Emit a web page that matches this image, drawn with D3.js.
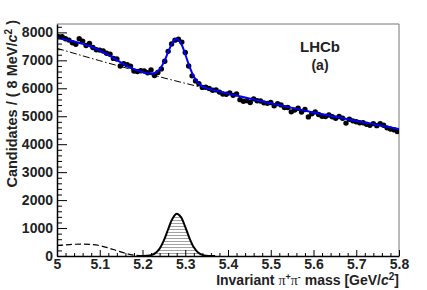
<!DOCTYPE html>
<html><head><meta charset="utf-8">
<script src="https://cdn.jsdelivr.net/npm/d3@7"></script>
<style>
body{margin:0;background:#fff}
svg{display:block}
text{font-family:"Liberation Sans",Arial,Helvetica,sans-serif;font-weight:bold;fill:#222}
</style>
</head><body>
<svg id="c" width="427" height="290"></svg>
<script>
// ---- histogram (8 MeV bins from 5.0 GeV) ----
const binLow = 5.0, binWidth = 0.008;
const counts = [
7848,7845,7771,7724,7627,7572,7773,7689,7530,7608,
7461,7380,7367,7335,7253,7217,7069,7050,6797,6882,
6840,6794,6619,6598,6627,6617,6557,6654,6458,6565,
6694,6969,7322,7582,7723,7756,7653,7278,6799,6445,
6264,6163,6032,6036,5995,5932,5943,5864,5794,5785,
5836,5748,5801,5593,5535,5557,5490,5622,5554,5546,
5479,5461,5493,5377,5451,5405,5309,5313,5157,5220,
5284,5148,5242,4976,5090,5155,5060,4996,4991,5047,
4982,4928,4993,4929,4754,4890,4836,4801,4768,4765,
4712,4679,4736,4663,4730,4677,4584,4541,4518,4455];

// ---- fit curves ----
const totalMass = [5.00,5.02,5.04,5.06,5.08,5.10,5.12,5.14,5.16,5.18,5.20,5.21,5.22,5.23,5.24,5.25,5.26,5.27,5.28,5.29,5.30,5.31,5.32,5.33,5.34,5.35,5.36,5.38,5.40,5.45,5.50,5.55,5.60,5.65,5.70,5.75,5.80];
const totalFit  = [7800,7741,7673,7589,7486,7357,7194,7010,6832,6684,6577,6540,6524,6555,6679,6933,7292,7629,7764,7606,7218,6774,6418,6194,6072,6005,5959,5884,5810,5637,5463,5300,5137,4984,4831,4687,4543];
const bkgMass = [5.0,5.1,5.2,5.3,5.4,5.5,5.6,5.7,5.8];
const bkgFit  = [7430,6987,6570,6178,5810,5463,5137,4831,4543];
const partMass = [5.00,5.02,5.04,5.06,5.08,5.10,5.12,5.14,5.16,5.18,5.20,5.22];
const partFit  = [370,400,420,425,410,370,290,190,95,30,5,0];
const sigMass = [5.19,5.20,5.21,5.22,5.23,5.24,5.25,5.26,5.27,5.28,5.29,5.30,5.31,5.32,5.33,5.34,5.35,5.36,5.37];
const sigFit  = [0,2,8,32,103,266,559,957,1333,1508,1389,1040,633,314,126,41,11,2,0];

// ---- ticks ----
const xTicks = [5.0,5.1,5.2,5.3,5.4,5.5,5.6,5.7,5.8];
const xTickLabels = ["5","5.1","5.2","5.3","5.4","5.5","5.6","5.7","5.8"];
const yTicks = [0,1000,2000,3000,4000,5000,6000,7000,8000];
const yTickLabels = ["0","1000","2000","3000","4000","5000","6000","7000","8000"];

const svg = d3.select("#c");
const x = d3.scaleLinear().domain([5, 5.8]).range([57, 399]);
const y = d3.scaleLinear().domain([0, 8300]).range([256, 24]);

const defs = svg.append("defs");
defs.append("clipPath").attr("id","plot").append("rect")
  .attr("x",57).attr("y",24).attr("width",342).attr("height",232);
const pat = defs.append("pattern").attr("id","hatch").attr("patternUnits","userSpaceOnUse")
  .attr("width",6).attr("height",3);
pat.append("line").attr("x1",0).attr("x2",6).attr("y1",1.5).attr("y2",1.5)
  .attr("stroke","#8a8a8a").attr("stroke-width",0.8);

// frame (top/right)
svg.append("path").attr("d",`M${x(5)},${y(8300)}H${x(5.8)}V${y(0)}`)
  .attr("fill","none").attr("stroke","#777").attr("stroke-width",1);

const g = svg.append("g").attr("clip-path","url(#plot)");
const sigPts = sigMass.map((m,i)=>[m,sigFit[i]]);

// signal (hatched)
g.append("path").datum(sigPts)
  .attr("d", d3.area().x(d=>x(d[0])).y0(y(0)).y1(d=>y(d[1])).curve(d3.curveCatmullRom))
  .attr("fill","url(#hatch)");
g.append("path").datum(sigPts)
  .attr("d", d3.line().x(d=>x(d[0])).y(d=>y(d[1])).curve(d3.curveCatmullRom))
  .attr("fill","none").attr("stroke","#000").attr("stroke-width",2);

// partially reconstructed (dashed)
g.append("path").datum(partMass.map((m,i)=>[m,partFit[i]]))
  .attr("d", d3.line().x(d=>x(d[0])).y(d=>y(d[1])).curve(d3.curveCatmullRom))
  .attr("fill","none").attr("stroke","#000").attr("stroke-width",1.2).attr("stroke-dasharray","6,3");

// combinatorial background (dash-dot)
g.append("path").datum(bkgMass.map((m,i)=>[m,bkgFit[i]]))
  .attr("d", d3.line().x(d=>x(d[0])).y(d=>y(d[1])).curve(d3.curveMonotoneX))
  .attr("fill","none").attr("stroke","#000").attr("stroke-width",1).attr("stroke-dasharray","7,2.5,1.5,2.5");

// data points
g.append("g").selectAll("circle").data(counts).join("circle")
  .attr("cx",(d,i)=>x(binLow + binWidth*(i+0.5)))
  .attr("cy",d=>y(d)).attr("r",2.7).attr("fill","#000");

// total fit (blue)
g.append("path").datum(totalMass.map((m,i)=>[m,totalFit[i]]))
  .attr("d", d3.line().x(d=>x(d[0])).y(d=>y(d[1])).curve(d3.curveCatmullRom))
  .attr("fill","none").attr("stroke","#0000ff").attr("stroke-width",2);

// axes
const xMinor = d3.range(0,41).map(k=>5+k*0.02).filter((v,k)=>k%5!==0);
const yMinor = d3.range(0,42).map(k=>k*200).filter((v,k)=>k%5!==0);

svg.append("g").attr("transform",`translate(0,${y(0)})`)
  .call(d3.axisBottom(x).tickValues(xTicks).tickFormat((d,i)=>xTickLabels[i])
    .tickSizeInner(-6).tickSizeOuter(0).tickPadding(3));
svg.append("g").attr("transform",`translate(0,${y(0)})`)
  .call(d3.axisBottom(x).tickValues(xMinor).tickFormat("").tickSizeInner(-3).tickSizeOuter(0))
  .select(".domain").remove();
svg.append("g").attr("transform",`translate(${x(5)},0)`)
  .call(d3.axisLeft(y).tickValues(yTicks).tickFormat((d,i)=>yTickLabels[i])
    .tickSizeInner(-10).tickSizeOuter(0).tickPadding(4));
svg.append("g").attr("transform",`translate(${x(5)},0)`)
  .call(d3.axisLeft(y).tickValues(yMinor).tickFormat("").tickSizeInner(-5).tickSizeOuter(0))
  .select(".domain").remove();
svg.selectAll(".domain").attr("stroke","#000").attr("stroke-width",1.5);
svg.selectAll(".tick line").attr("stroke","#000").attr("stroke-width",1);
svg.selectAll(".tick text").attr("font-size",14).attr("font-family","Liberation Sans, Arial, sans-serif")
  .attr("font-weight","bold").attr("fill","#222");

// axis titles
const xt = svg.append("text").attr("x",399).attr("y",285).attr("text-anchor","end").attr("font-size",14);
xt.append("tspan").text("Invariant ");
xt.append("tspan").attr("font-family","Liberation Serif, serif").attr("font-weight","normal").text("π");
xt.append("tspan").attr("font-size",9).attr("dy",-5).text("+");
xt.append("tspan").attr("font-family","Liberation Serif, serif").attr("font-weight","normal").attr("dy",5).text("π");
xt.append("tspan").attr("font-size",9).attr("dy",-5).text("-");
xt.append("tspan").attr("dy",5).text(" mass [GeV/");
xt.append("tspan").attr("font-style","italic").text("c");
xt.append("tspan").attr("font-size",10).attr("dy",-5).text("2");
xt.append("tspan").attr("dy",5).text("]");

const yt = svg.append("text").attr("transform","translate(17,20) rotate(-90)")
  .attr("text-anchor","end").attr("font-size",14.5);
yt.append("tspan").text("Candidates / ( 8 MeV/");
yt.append("tspan").attr("font-style","italic").text("c");
yt.append("tspan").attr("font-size",10).attr("dy",-5).text("2");
yt.append("tspan").attr("dy",5).text(" )");

// LHCb label
svg.append("text").attr("x",320).attr("y",52).attr("text-anchor","middle").attr("font-size",15).text("LHCb");
svg.append("text").attr("x",320).attr("y",70).attr("text-anchor","middle").attr("font-size",14).text("(a)");
</script>
</body></html>
